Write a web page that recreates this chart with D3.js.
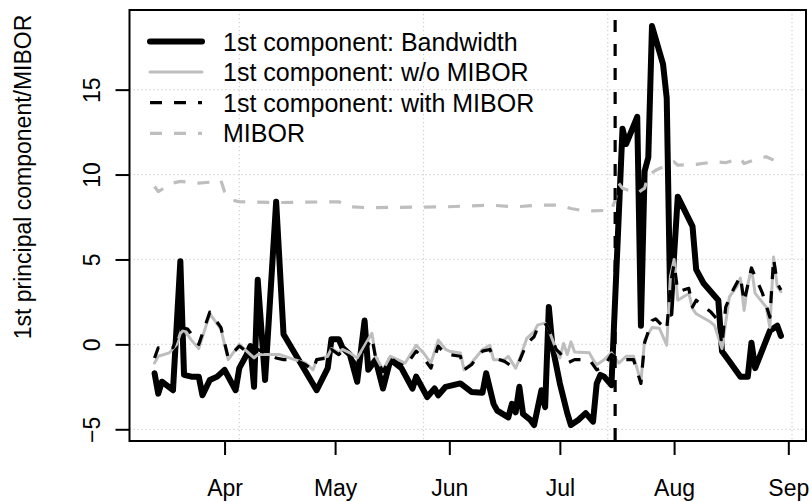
<!DOCTYPE html>
<html>
<head>
<meta charset="utf-8">
<script src="https://cdn.jsdelivr.net/npm/d3@7"></script>
<style>
  html, body { margin: 0; padding: 0; background: #fff; }
  svg { display: block; font-family: "Liberation Sans", Arial, Helvetica, sans-serif; }
</style>
</head>
<body>
<svg id="chart" width="812" height="502"></svg>
<script>
// ---------- data ----------
const bandwidth = [
  ["2013-03-13",-1.7],["2013-03-14",-2.9],["2013-03-15",-2.2],["2013-03-18",-2.7],
  ["2013-03-20",4.9],["2013-03-21",-1.8],["2013-03-23",-1.9],["2013-03-25",-1.9],
  ["2013-03-26",-3.0],["2013-03-28",-2.1],["2013-03-30",-1.9],["2013-04-01",-1.5],
  ["2013-04-04",-2.7],["2013-04-05",-1.4],["2013-04-07",-0.6],["2013-04-08",-0.1],
  ["2013-04-09",-2.5],["2013-04-10",3.8],["2013-04-12",-2.1],["2013-04-15",8.4],
  ["2013-04-17",0.6],["2013-04-26",-2.7],["2013-04-29",-1.4],["2013-04-30",0.3],
  ["2013-05-02",0.3],["2013-05-03",-0.2],["2013-05-05",-0.6],["2013-05-07",-2.2],
  ["2013-05-09",1.4],["2013-05-10",-1.5],["2013-05-12",-0.9],["2013-05-14",-2.6],
  ["2013-05-16",-0.9],["2013-05-19",-1.4],["2013-05-22",-2.6],["2013-05-23",-1.9],
  ["2013-05-26",-3.1],["2013-05-28",-2.6],["2013-05-29",-3.0],["2013-05-31",-2.5],
  ["2013-06-04",-2.3],["2013-06-07",-2.8],["2013-06-10",-2.85],["2013-06-11",-1.7],
  ["2013-06-13",-3.5],["2013-06-14",-3.9],["2013-06-17",-4.3],["2013-06-18",-3.5],
  ["2013-06-19",-4.0],["2013-06-20",-2.5],["2013-06-21",-4.1],["2013-06-23",-4.45],
  ["2013-06-24",-4.75],["2013-06-26",-2.7],["2013-06-27",-3.7],["2013-06-28",2.2],
  ["2013-06-29",-0.15],["2013-07-01",-2.3],["2013-07-03",-4.05],["2013-07-04",-4.75],
  ["2013-07-06",-4.45],["2013-07-08",-4.05],["2013-07-10",-4.55],["2013-07-11",-2.3],
  ["2013-07-12",-1.8],["2013-07-13",-1.9],["2013-07-15",-2.4],["2013-07-18",12.7],
  ["2013-07-19",11.8],["2013-07-22",13.4],["2013-07-23",1.1],["2013-07-24",10.2],
  ["2013-07-25",11.0],["2013-07-26",18.75],["2013-07-29",16.5],["2013-07-30",14.5],
  ["2013-07-31",1.8],["2013-08-02",8.7],["2013-08-06",6.95],["2013-08-07",4.4],
  ["2013-08-09",3.6],["2013-08-13",2.6],["2013-08-14",-0.4],["2013-08-16",-1.0],
  ["2013-08-19",-1.9],["2013-08-21",-1.9],["2013-08-22",0.1],["2013-08-23",-1.4],
  ["2013-08-27",0.8],["2013-08-29",1.1],["2013-08-30",0.5]
];

const withoutMibor = [
  ["2013-03-13",-1.1],["2013-03-14",-0.7],["2013-03-17",-0.5],["2013-03-19",0.0],
  ["2013-03-20",0.65],["2013-03-21",0.85],["2013-03-23",0.25],["2013-03-25",-0.25],
  ["2013-03-28",1.8],["2013-03-30",1.2],["2013-03-31",0.9],["2013-04-02",-0.9],
  ["2013-04-05",0.0],["2013-04-07",-0.4],["2013-04-09",-0.8],["2013-04-10",-0.6],
  ["2013-04-16",-0.6],["2013-04-20",-0.9],["2013-04-23",-1.1],["2013-04-25",-1.5],
  ["2013-04-26",-0.9],["2013-04-29",-0.7],["2013-04-30",-0.25],["2013-05-02",-0.5],
  ["2013-05-03",-0.3],["2013-05-05",-0.5],["2013-05-07",-0.8],["2013-05-11",0.65],
  ["2013-05-12",-0.7],["2013-05-14",-1.5],["2013-05-16",-0.7],["2013-05-18",-0.9],
  ["2013-05-20",-1.1],["2013-05-23",-0.05],["2013-05-25",-0.5],["2013-05-27",-1.1],
  ["2013-05-29",0.25],["2013-05-31",-0.3],["2013-06-01",-0.4],["2013-06-04",-0.5],
  ["2013-06-05",-1.5],["2013-06-07",-1.1],["2013-06-10",-0.3],["2013-06-12",-0.05],
  ["2013-06-13",-0.9],["2013-06-16",-0.9],["2013-06-17",-0.7],["2013-06-19",-1.4],
  ["2013-06-20",-0.9],["2013-06-22",0.35],["2013-06-24",0.75],["2013-06-25",1.15],
  ["2013-06-27",1.25],["2013-06-28",0.85],["2013-06-30",-0.3],["2013-07-01",-0.8],
  ["2013-07-02",0.05],["2013-07-03",-0.6],["2013-07-04",0.15],["2013-07-05",-0.45],
  ["2013-07-09",-0.5],["2013-07-10",-0.9],["2013-07-11",-1.2],["2013-07-13",-0.9],
  ["2013-07-15",-0.5],["2013-07-17",-1.1],["2013-07-19",-0.7],["2013-07-21",-0.7],
  ["2013-07-23",-2.2],["2013-07-24",0.25],["2013-07-26",1.0],["2013-07-28",0.95],
  ["2013-07-30",-0.05],["2013-07-31",4.0],["2013-08-01",5.0],["2013-08-02",2.6],
  ["2013-08-05",3.0],["2013-08-06",2.1],["2013-08-07",1.8],["2013-08-11",1.3],
  ["2013-08-12",1.1],["2013-08-14",-0.25],["2013-08-16",2.8],["2013-08-18",3.4],
  ["2013-08-19",3.9],["2013-08-20",2.0],["2013-08-21",3.5],["2013-08-22",4.5],
  ["2013-08-23",3.0],["2013-08-26",2.2],["2013-08-27",1.0],["2013-08-28",5.15],
  ["2013-08-29",3.4],["2013-08-30",3.1]
];

const withMibor = [
  ["2013-03-13",-0.8],["2013-03-14",-0.2],["2013-03-18",-0.2],["2013-03-20",1.0],
  ["2013-03-22",0.9],["2013-03-25",0.0],["2013-03-28",1.9],["2013-03-31",1.0],
  ["2013-04-02",-0.8],["2013-04-05",-0.1],["2013-04-08",-0.6],["2013-04-10",-0.3],
  ["2013-04-15",-0.8],["2013-04-17",-0.9],["2013-04-20",-0.9],["2013-04-23",-1.2],
  ["2013-04-25",-1.5],["2013-04-26",-0.9],["2013-04-29",-0.8],["2013-04-30",-0.3],
  ["2013-05-02",-0.6],["2013-05-03",-0.4],["2013-05-05",-0.7],["2013-05-07",-1.2],
  ["2013-05-11",0.4],["2013-05-12",-0.8],["2013-05-14",-1.6],["2013-05-16",-0.8],
  ["2013-05-18",-1.1],["2013-05-20",-1.3],["2013-05-23",-0.4],["2013-05-25",-0.8],
  ["2013-05-27",-1.4],["2013-05-29",-0.1],["2013-05-31",-0.6],["2013-06-01",-0.6],
  ["2013-06-04",-0.7],["2013-06-05",-1.5],["2013-06-07",-1.2],["2013-06-10",-0.4],
  ["2013-06-12",-0.3],["2013-06-13",-0.8],["2013-06-16",-1.0],["2013-06-18",-1.3],
  ["2013-06-20",-1.0],["2013-06-22",0.05],["2013-06-24",0.45],["2013-06-25",1.0],
  ["2013-06-27",1.25],["2013-06-28",0.85],["2013-06-30",-0.3],["2013-07-01",-0.5],
  ["2013-07-03",-1.1],["2013-07-05",-0.9],["2013-07-09",-0.9],["2013-07-11",-1.5],
  ["2013-07-13",-1.3],["2013-07-15",-0.6],["2013-07-17",-0.9],["2013-07-21",-0.9],
  ["2013-07-23",-2.3],["2013-07-24",0.1],["2013-07-26",1.4],["2013-07-27",1.5],
  ["2013-07-30",0.85],["2013-07-31",3.5],["2013-08-01",4.75],["2013-08-02",3.1],
  ["2013-08-05",3.3],["2013-08-06",2.2],["2013-08-07",2.6],["2013-08-11",1.9],
  ["2013-08-13",1.4],["2013-08-14",-0.05],["2013-08-15",2.2],["2013-08-17",3.2],
  ["2013-08-19",4.0],["2013-08-20",2.5],["2013-08-22",4.5],["2013-08-25",3.0],
  ["2013-08-27",1.6],["2013-08-28",5.05],["2013-08-29",3.6],["2013-08-30",3.2]
];

const mibor = [
  ["2013-03-13",9.3],["2013-03-14",9.0],["2013-03-18",9.5],["2013-03-20",9.6],
  ["2013-03-25",9.5],["2013-03-28",9.55],["2013-03-31",9.65],["2013-04-01",9.0],
  ["2013-04-03",8.5],["2013-04-05",8.4],["2013-04-15",8.35],["2013-05-02",8.4],
  ["2013-05-05",8.1],["2013-05-10",8.05],["2013-05-31",8.1],["2013-06-12",8.2],
  ["2013-06-19",8.1],["2013-06-25",8.2],["2013-07-01",8.2],["2013-07-04",8.0],
  ["2013-07-08",7.85],["2013-07-15",7.9],["2013-07-16",8.5],["2013-07-17",9.47],
  ["2013-07-18",9.2],["2013-07-22",8.9],["2013-07-24",9.2],["2013-07-25",9.95],
  ["2013-07-27",10.25],["2013-07-31",10.65],["2013-08-01",10.75],["2013-08-02",10.55],
  ["2013-08-07",10.6],["2013-08-12",10.75],["2013-08-15",10.7],["2013-08-19",10.95],
  ["2013-08-20",10.65],["2013-08-24",10.95],["2013-08-26",11.05],["2013-08-28",10.85]
];

const monthTicks = ["2013-04-01","2013-05-01","2013-06-01","2013-07-01","2013-08-01","2013-09-01"];
const monthLabels = ["Apr","May","Jun","Jul","Aug","Sep"];
const gridDates = ["2013-04-05","2013-05-25","2013-07-14","2013-09-02"];
const yTicks = [-5, 0, 5, 10, 15];
const eventDate = "2013-07-16";
const legendLabels = ["1st component: Bandwidth","1st component: w/o MIBOR","1st component: with MIBOR","MIBOR"];
const yTitle = "1st principal component/MIBOR";

// ---------- setup ----------
const parse = d3.timeParse("%Y-%m-%d");
const svg = d3.select("#chart");
const L = 129.5, R = 806, T = 10, B = 441;

const allSeries = [bandwidth, withoutMibor, withMibor, mibor];
const allDates = allSeries.flat().map(d => parse(d[0]));
const allVals = allSeries.flat().map(d => d[1]);
const [x0, x1] = d3.extent(allDates);
const xPad = (x1 - x0) * 0.04;
const [v0, v1] = d3.extent(allVals);
const yPad = (v1 - v0) * 0.04;

const x = d3.scaleTime().domain([new Date(+x0 - xPad), new Date(+x1 + xPad)]).range([L, R]);
const y = d3.scaleLinear().domain([v0 - yPad, v1 + yPad]).range([B, T]);

const FS_AXIS = 23, FS_LEG = 25;

// grid
const grid = svg.append("g").attr("stroke", "#cfcfcf").attr("stroke-width", 1.2)
  .attr("stroke-dasharray", "1.2 2.8");
grid.selectAll("line.h").data(yTicks).join("line")
  .attr("x1", L).attr("x2", R).attr("y1", d => y(d)).attr("y2", d => y(d));
grid.selectAll("line.v").data(gridDates).join("line")
  .attr("x1", d => x(parse(d))).attr("x2", d => x(parse(d))).attr("y1", T).attr("y2", B);

// clip
svg.append("clipPath").attr("id", "clip").append("rect")
  .attr("x", L).attr("y", T).attr("width", R - L).attr("height", B - T);
const plot = svg.append("g").attr("clip-path", "url(#clip)");

const line = d3.line().x(d => x(parse(d[0]))).y(d => y(d[1]));

const styles = [
  {data: bandwidth, color: "#000", width: 6, dash: null},
  {data: withoutMibor, color: "#bebebe", width: 3, dash: null},
  {data: withMibor, color: "#000", width: 3.2, dash: "12 12"},
  {data: mibor, color: "#bebebe", width: 3.2, dash: "12 12"}
];

styles.forEach(s => {
  plot.append("path").datum(s.data)
    .attr("fill", "none").attr("stroke", s.color).attr("stroke-width", s.width)
    .attr("stroke-linejoin", "round")
    .attr("stroke-linecap", s.dash ? "butt" : "round")
    .attr("stroke-dasharray", s.dash)
    .attr("d", line);
});

// event line
plot.append("line")
  .attr("x1", x(parse(eventDate))).attr("x2", x(parse(eventDate)))
  .attr("y1", T).attr("y2", B)
  .attr("stroke", "#000").attr("stroke-width", 3.2)
  .attr("stroke-dasharray", "12 12").attr("stroke-dashoffset", 14);

// box
svg.append("rect").attr("x", L).attr("y", T).attr("width", R - L).attr("height", B - T)
  .attr("fill", "none").attr("stroke", "#000").attr("stroke-width", 2);

// x axis
const xAxis = d3.axisBottom(x)
  .tickValues(monthTicks.map(parse))
  .tickFormat((d, i) => monthLabels[i])
  .tickSize(14);
const gx = svg.append("g").attr("transform", `translate(0,${B})`).call(xAxis);
gx.select(".domain").remove();
gx.selectAll(".tick line").attr("stroke", "#000").attr("stroke-width", 2);
gx.selectAll(".tick text")
  .attr("y", 55).attr("dy", 0)
  .attr("fill", "#000")
  .style("font-size", FS_AXIS + "px")
  .style("font-family", '"Liberation Sans", Arial, sans-serif');

// y axis
const yAxis = d3.axisLeft(y).tickValues(yTicks).tickSize(14);
const gy = svg.append("g").attr("transform", `translate(${L},0)`).call(yAxis);
gy.select(".domain").remove();
gy.selectAll(".tick line").attr("stroke", "#000").attr("stroke-width", 2);
gy.selectAll(".tick text")
  .attr("transform", "rotate(-90)")
  .attr("x", 0).attr("y", -29.5).attr("dy", 0)
  .attr("text-anchor", "middle")
  .attr("fill", "#000")
  .style("font-size", FS_AXIS + "px")
  .style("font-family", '"Liberation Sans", Arial, sans-serif');

// y title
svg.append("text")
  .attr("transform", "translate(31,177) rotate(-90)")
  .attr("text-anchor", "middle")
  .style("font-size", FS_AXIS + "px")
  .text(yTitle);

// legend
const legY0 = 41.5, legDy = 30.6;
const leg = svg.append("g");
styles.forEach((s, i) => {
  const yy = legY0 + i * legDy;
  leg.append("line")
    .attr("x1", 150).attr("x2", 202).attr("y1", yy).attr("y2", yy)
    .attr("stroke", s.color).attr("stroke-width", s.width)
    .attr("stroke-linecap", s.dash ? "butt" : "round")
    .attr("stroke-dasharray", s.dash);
  leg.append("text")
    .attr("x", 223).attr("y", yy + 9)
    .style("font-size", FS_LEG + "px")
    .text(legendLabels[i]);
});
</script>
</body>
</html>
